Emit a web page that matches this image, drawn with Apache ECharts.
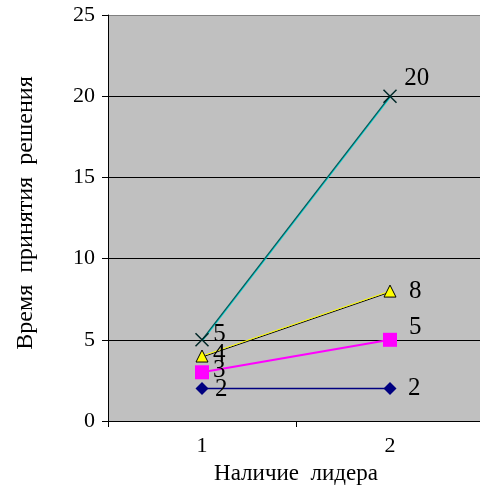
<!DOCTYPE html>
<html>
<head>
<meta charset="utf-8">
<script src="https://cdn.jsdelivr.net/npm/echarts@6/dist/echarts.min.js"></script>
<style>html,body{margin:0;padding:0;background:#fff}#c{width:480px;height:485px}</style>
</head>
<body>
<div id="c"></div>
<script>
var categories = ['1', '2'];
var seriesA = [2, 2];   // navy diamonds
var seriesB = [3, 5];   // magenta squares
var seriesC = [4, 8];   // yellow triangles
var seriesD = [5, 20];  // teal crosses
var yTicks = [0, 5, 10, 15, 20, 25];
var xTitle = 'Наличие  лидера';
var yTitle = 'Время  принятия  решения';

var FONT = "'Times New Roman', 'Liberation Serif', 'DejaVu Serif', serif";

function mk(values, offsets) {
  return values.map(function (v, i) {
    return { value: v, label: { offset: offsets[i] } };
  });
}

var labelBase = {
  show: true, position: 'right', distance: 0,
  fontFamily: FONT, fontSize: 25, color: '#000'
};

var chart = echarts.init(document.getElementById('c'), null, { renderer: 'canvas' });
chart.setOption({
  animation: false,
  textStyle: { fontFamily: FONT },
  grid: { left: 108, top: 15, width: 376, height: 406, show: true, backgroundColor: '#C0C0C0', borderWidth: 0, containLabel: false, outerBoundsMode: 'none' },
  xAxis: {
    type: 'category', data: categories, boundaryGap: true,
    name: xTitle, nameLocation: 'middle', nameGap: 41,
    nameTextStyle: { fontFamily: FONT, fontSize: 23, color: '#000' },
    axisLine: { lineStyle: { color: '#000', width: 1 } },
    axisTick: { show: true, length: 6, lineStyle: { color: '#000' } },
    axisLabel: { fontFamily: FONT, fontSize: 22, color: '#000', margin: 14 },
    splitLine: { show: false }
  },
  yAxis: {
    type: 'value', min: yTicks[0], max: yTicks[yTicks.length - 1], interval: yTicks[1] - yTicks[0],
    name: yTitle, nameLocation: 'middle', nameRotate: 90, nameGap: 70,
    nameTextStyle: { fontFamily: FONT, fontSize: 24, color: '#000', padding: [0, 0, 0, 10] },
    axisLine: { show: true, lineStyle: { color: '#000', width: 1 } },
    axisTick: { show: true, length: 6, lineStyle: { color: '#000' } },
    axisLabel: { fontFamily: FONT, fontSize: 22, color: '#000', margin: 13 },
    splitLine: { show: true, lineStyle: { color: ['#000', '#000', '#000', '#000', '#000', '#808080'], width: 1 } }
  },
  series: [
    {
      type: 'line', data: mk(seriesA, [[6.5, 1], [11.5, 0]]),
      symbol: 'diamond', symbolSize: 13,
      itemStyle: { color: '#000080' },
      lineStyle: { color: '#000080', width: 1.5 },
      label: labelBase
    },
    {
      type: 'line', data: mk(seriesB, [[4, -2], [12, -12]]),
      symbol: 'rect', symbolSize: 14,
      itemStyle: { color: '#FF00FF' },
      lineStyle: { color: '#FF00FF', width: 2 },
      label: labelBase
    },
    {
      type: 'line', data: mk(seriesC, [[4.5, -2], [12.5, 0]]),
      symbol: 'triangle', symbolSize: 12,
      itemStyle: { color: '#FFFF00', borderColor: '#000', borderWidth: 1 },
      lineStyle: { color: '#FFFF00', width: 1, shadowColor: '#000', shadowBlur: 0, shadowOffsetY: 1 },
      label: labelBase
    },
    {
      type: 'line', data: mk(seriesD, [[4, -5], [7, -18]]),
      symbol: 'path://M0,0L10,10M10,0L0,10', symbolSize: 13, symbolKeepAspect: true,
      itemStyle: { color: 'rgba(0,0,0,0)', borderColor: '#002828', borderWidth: 1.5 },
      lineStyle: { color: '#005858', width: 1.2, shadowColor: '#00D0D0', shadowBlur: 0, shadowOffsetX: 1 },
      label: labelBase
    }
  ]
});
</script>
</body>
</html>
